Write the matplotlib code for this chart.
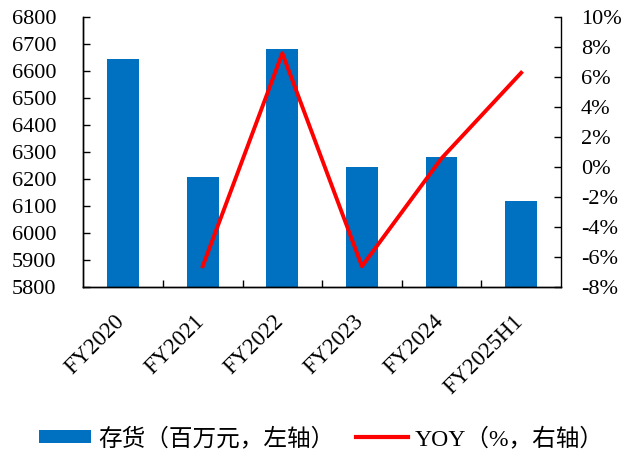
import matplotlib
matplotlib.use("Agg")
import matplotlib.pyplot as plt
from matplotlib.ticker import FixedLocator, FuncFormatter
from matplotlib.patches import Patch
from matplotlib.lines import Line2D
from matplotlib.transforms import ScaledTranslation

categories = ["FY2020", "FY2021", "FY2022", "FY2023", "FY2024", "FY2025H1"]
inventory = [6647, 6209, 6683, 6244, 6281, 6119]          # 百万元
yoy = [None, -6.6, 7.6, -6.6, 0.6, 6.3]                    # %

plt.rcParams["font.family"] = ["Liberation Serif", "Noto Sans CJK SC", "DejaVu Sans"]
plt.rcParams["font.size"] = 16

fig = plt.figure(figsize=(6.24, 4.5), dpi=100)
ax = fig.add_axes([0.1335, 0.3616, 0.7655, 0.6])
ax2 = ax.twinx()

x = list(range(len(categories)))
ax.bar(x, inventory, width=0.4, color="#0070C0", zorder=2)
ax.set_ylim(5800, 6800)
ax.set_yticks(range(5800, 6801, 100))
ax.set_xlim(-0.5, len(categories) - 0.5)

ax.set_xticks(x)
ax.set_xticklabels(categories, rotation=45, ha="right", va="top",
                   rotation_mode="anchor", fontsize=16.5)
ax.xaxis.set_minor_locator(FixedLocator([i + 0.5 for i in range(len(categories) - 1)]))
ax.tick_params(axis="x", which="major", length=0, pad=17)
ax.tick_params(axis="x", which="minor", direction="in", length=5, width=1)
ax.tick_params(axis="y", direction="in", length=5, width=1, pad=19.5)

# nudge the rotated category labels to the left
shift = ScaledTranslation(-9 / 100, 0, fig.dpi_scale_trans)
for lbl in ax.xaxis.get_majorticklabels():
    lbl.set_transform(lbl.get_transform() + shift)

yx = [i for i, v in enumerate(yoy) if v is not None]
yv = [v for v in yoy if v is not None]
ax2.plot(yx, yv, color="#FF0000", linewidth=2.8, zorder=3)
ax2.set_ylim(-8, 10)
ax2.set_yticks(range(-8, 11, 2))
ax2.yaxis.set_major_formatter(FuncFormatter(lambda v, p: f"{int(v)}%"))
ax2.tick_params(axis="y", direction="in", length=5, width=1, pad=14.5)

for a in (ax, ax2):
    a.spines["top"].set_visible(False)
    for s in ("left", "right", "bottom"):
        a.spines[s].set_linewidth(1)
        a.spines[s].set_color("#000000")
ax.spines["right"].set_visible(False)

handles = [Patch(facecolor="#0070C0", edgecolor="none"),
           Line2D([0], [0], color="#FF0000", linewidth=3)]
labels = ["存货（百万元，左轴）", "YOY（%，右轴）"]
fig.legend(handles, labels, loc="lower center", bbox_to_anchor=(0.515, -0.047), ncol=2,
           frameon=False, handlelength=2.2, handleheight=0.5, handletextpad=0.3,
           columnspacing=0.9, fontsize=17)

fig.savefig("out.png", dpi=100)
